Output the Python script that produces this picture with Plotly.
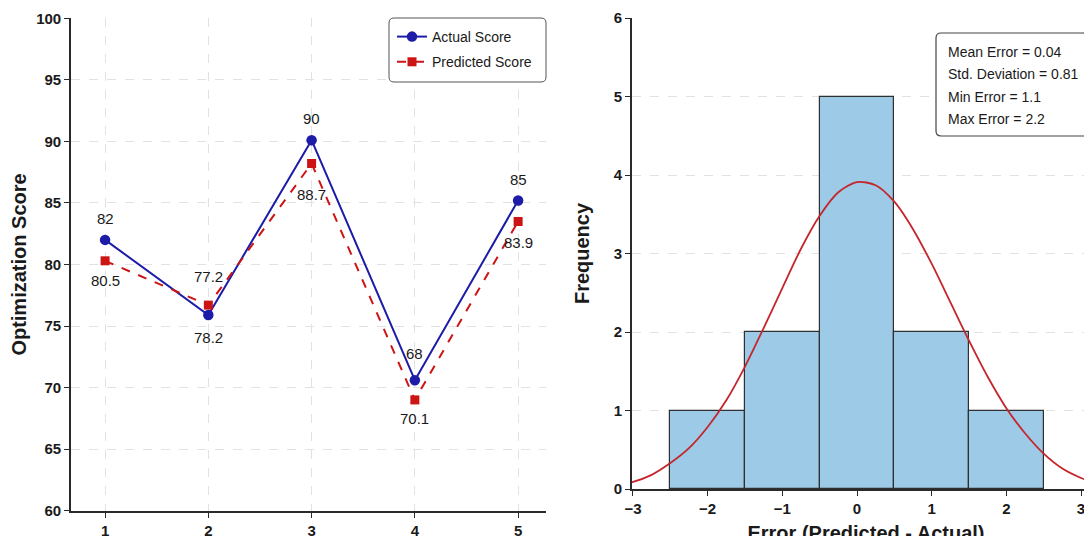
import plotly.graph_objects as go

# ---------------- data ----------------
sample_index = [1, 2, 3, 4, 5]
actual_score = [82.0, 75.9, 90.1, 70.6, 85.2]
predicted_score = [80.3, 76.7, 88.2, 69.0, 83.5]
actual_labels = ["82", "78.2", "90", "68", "85"]
predicted_labels = ["80.5", "77.2", "88.7", "70.1", "83.9"]

error_bins = [-2, -1, 0, 1, 2]
error_counts = [1, 2, 5, 2, 1]

curve_x = [-3.15, -3.0, -2.75, -2.5, -2.25, -2.0, -1.75, -1.5, -1.25, -1.0, -0.75, -0.5, -0.25,
           0.0, 0.25, 0.5, 0.75, 1.0, 1.25, 1.5, 1.75, 2.0, 2.25, 2.5, 2.75, 3.0, 3.15]
curve_y = [0.06, 0.09, 0.18, 0.33, 0.52, 0.79, 1.13, 1.56, 2.05, 2.56, 3.06, 3.48, 3.78,
           3.91, 3.87, 3.66, 3.31, 2.87, 2.38, 1.89, 1.43, 1.03, 0.71, 0.45, 0.26, 0.14, 0.09]

stats_lines = ["Mean Error = 0.04", "Std. Deviation = 0.81", "Min Error = 1.1", "Max Error = 2.2"]

# ---------------- style ----------------
W, H = 1092, 536
PAGE_OFF = 8  # default body margin of the html page
FONT = "Liberation Sans, Arial, sans-serif"
BLUE = "#1c1ca8"
RED = "#cc1414"
AX = "#2a2a2a"
GRID = "#e2e2e2"

# label offsets (px) for the point labels
actual_shift = [21, -23, 22, 27, 21]
predicted_shift = [-20, 29, -31, -19, -21]

def px_x(p):
    return (p - PAGE_OFF) / W

def px_y(p):
    return 1 - (p - PAGE_OFF) / H

fig = go.Figure()

fig.add_trace(go.Scatter(
    x=sample_index, y=actual_score, mode="lines+markers", name="Actual Score",
    line=dict(color=BLUE, width=2), marker=dict(symbol="circle", size=10.5, color=BLUE),
    xaxis="x", yaxis="y", legendgroup="a"))
fig.add_trace(go.Scatter(
    x=sample_index, y=predicted_score, mode="lines+markers", name="Predicted Score",
    line=dict(color=RED, width=2, dash="dash"), marker=dict(symbol="square", size=9, color=RED),
    xaxis="x", yaxis="y", legendgroup="p"))

fig.add_trace(go.Bar(
    x=error_bins, y=error_counts, width=1,
    marker=dict(color="#9dcbe7", line=dict(color="#2f2f2f", width=1.2)),
    xaxis="x2", yaxis="y2", showlegend=False))
fig.add_trace(go.Scatter(
    x=curve_x, y=curve_y, mode="lines", line=dict(color="#c4262c", width=1.8, shape="spline", smoothing=0.8),
    xaxis="x2", yaxis="y2", showlegend=False))

annotations = []
for xi, yi, t, s in zip(sample_index, actual_score, actual_labels, actual_shift):
    annotations.append(dict(x=xi, y=yi, xref="x", yref="y", text=t, showarrow=False,
                            yshift=s, font=dict(family=FONT, size=15, color="#1a1a1a")))
for xi, yi, t, s in zip(sample_index, predicted_score, predicted_labels, predicted_shift):
    annotations.append(dict(x=xi, y=yi, xref="x", yref="y", text=t, showarrow=False,
                            yshift=s, font=dict(family=FONT, size=15, color="#1a1a1a")))

stat_y = [52, 74, 96.5, 119]
for t, yy in zip(stats_lines, stat_y):
    annotations.append(dict(x=px_x(946), y=px_y(yy), xref="paper", yref="paper", text=t,
                            showarrow=False, xanchor="left", yanchor="middle",
                            font=dict(family=FONT, size=14, color="#1a1a1a")))

def rounded_box(x0, y0, x1, y1, r=5):
    X = lambda v: px_x(v)
    Y = lambda v: px_y(v)
    return (f"M {X(x0 + r)},{Y(y0)} L {X(x1 - r)},{Y(y0)} Q {X(x1)},{Y(y0)} {X(x1)},{Y(y0 + r)} "
            f"L {X(x1)},{Y(y1 - r)} Q {X(x1)},{Y(y1)} {X(x1 - r)},{Y(y1)} "
            f"L {X(x0 + r)},{Y(y1)} Q {X(x0)},{Y(y1)} {X(x0)},{Y(y1 - r)} "
            f"L {X(x0)},{Y(y0 + r)} Q {X(x0)},{Y(y0)} {X(x0 + r)},{Y(y0)} Z")

shapes = [
    dict(type="path", xref="paper", yref="paper", path=rounded_box(389, 18, 546, 82),
         fillcolor="white", line=dict(color="#555555", width=1), layer="above"),
    dict(type="path", xref="paper", yref="paper", path=rounded_box(936, 33, 1088, 136),
         fillcolor="white", line=dict(color="#444444", width=1.2), layer="above"),
]

tickfont = dict(family=FONT, size=15, color="#1a1a1a", weight="bold")
titlefont = dict(family=FONT, size=20, color="#1a1a1a", weight="bold")

common = dict(automargin=False, zeroline=False, showline=True, linecolor=AX, linewidth=1.6,
              ticks="outside", ticklen=5, tickcolor=AX, tickfont=tickfont)

fig.update_layout(
    template="none",
    width=W, height=H,
    margin=dict(l=0, r=0, t=0, b=0, pad=0),
    paper_bgcolor="white", plot_bgcolor="white",
    font=dict(family=FONT),
    showlegend=True,
    legend=dict(x=px_x(392), y=px_y(21), xanchor="left", yanchor="top",
                bgcolor="rgba(0,0,0,0)", borderwidth=0, tracegroupgap=4,
                font=dict(family=FONT, size=14, color="#1a1a1a")),
    xaxis=dict(domain=[px_x(71), px_x(546)], range=[0.67, 5.27], tickvals=sample_index,
               showgrid=True, gridcolor=GRID, griddash="dash", gridwidth=1, anchor="y", **common),
    yaxis=dict(domain=[px_y(510.7), px_y(18.3)], range=[60, 100], dtick=5,
               showgrid=True, gridcolor=GRID, griddash="dash", gridwidth=1, anchor="x",
               title=dict(text="Optimization Score", font=titlefont, standoff=8), **common),
    xaxis2=dict(domain=[px_x(632), 1.0], range=[-3.013, 3.147 + 8 / 74.7], dtick=1,
                showgrid=False, anchor="y2",
                title=dict(text="Error (Predicted - Actual)", font=titlefont, standoff=13), **common),
    yaxis2=dict(domain=[px_y(489), px_y(18)], range=[0, 6], dtick=1,
                showgrid=True, gridcolor=GRID, griddash="dash", gridwidth=1, anchor="x2",
                title=dict(text="Frequency", font=titlefont, standoff=19), **common),
    annotations=annotations,
    shapes=shapes,
    bargap=0,
)

fig.write_html("out.html")
